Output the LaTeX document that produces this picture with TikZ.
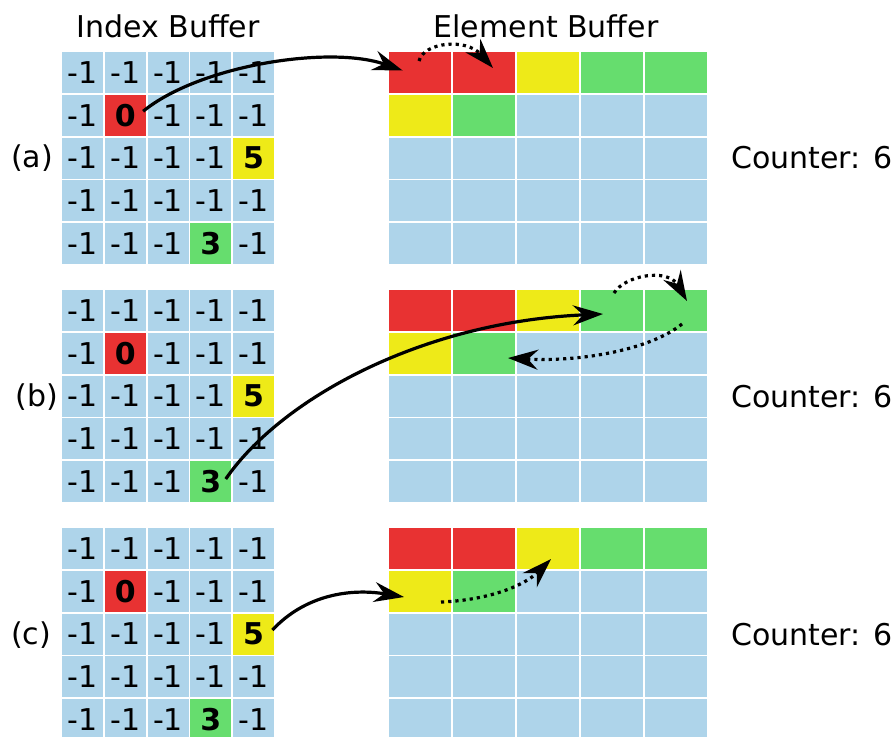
\documentclass[tikz,border=0pt]{standalone}
\usepackage{fontspec}
\setmainfont{DejaVu Sans}
\usetikzlibrary{arrows.meta,calc}
\definecolor{cellblue}{RGB}{174,212,234}
\definecolor{cellred}{RGB}{232,50,50}
\definecolor{cellyellow}{RGB}{238,234,24}
\definecolor{cellgreen}{RGB}{102,221,110}
\begin{document}
\begin{tikzpicture}[x=0.5pt,y=-0.5pt,
  every node/.style={font=\fontsize{15}{18}\selectfont},
  icell/.style={minimum width=20.5pt,minimum height=20.5pt,inner sep=0pt,fill=cellblue},
  ecell/.style={minimum width=31pt,minimum height=20.5pt,inner sep=0pt,fill=cellblue},
  link/.style={line width=1.6pt,-{Stealth[length=15pt,width=10pt,inset=5pt]}},
  hop/.style={link,dotted}]
\useasboundingbox (0,0) rectangle (892,736);

% column titles
\node[anchor=base] (ti) at (168,37) {Index Buffer};
\node[anchor=base] (te) at (546,37) {Element Buffer};

\foreach \b/\top in {a/52,b/290,c/528} {
  % index buffer: 5x5 cells
  \foreach \r in {1,...,5} {
    \foreach \c in {1,...,5} {
      \def\col{cellblue}\def\txt{-1}
      \ifnum\r\c=22 \def\col{cellred}\def\txt{\textbf{0}}\fi
      \ifnum\r\c=35 \def\col{cellyellow}\def\txt{\textbf{5}}\fi
      \ifnum\r\c=54 \def\col{cellgreen}\def\txt{\textbf{3}}\fi
      \node[icell,fill=\col] (I\b-\r-\c) at ({82.5+(\c-1)*42.75},{\top+20.5+(\r-1)*42.75}) {\txt};
    }
  }
  % element buffer: 5x5 slots
  \foreach \r in {1,...,5} {
    \foreach \c in {1,...,5} {
      \def\col{cellblue}
      \ifnum\r\c<13 \def\col{cellred}\fi
      \ifnum\r\c=13 \def\col{cellyellow}\fi
      \ifnum\r\c=14 \def\col{cellgreen}\fi
      \ifnum\r\c=15 \def\col{cellgreen}\fi
      \ifnum\r\c=21 \def\col{cellyellow}\fi
      \ifnum\r\c=22 \def\col{cellgreen}\fi
      \node[ecell,fill=\col] (E\b-\r-\c) at ({420+(\c-1)*64},{\top+20.5+(\r-1)*42.75}) {};
    }
  }
}

% row labels and counters
\node (la) at (32,158) {(a)};
\node (lb) at (37,397) {(b)};
\node (lc) at (31,635) {(c)};
\node[anchor=west,inner sep=0pt] (ka) at (731,158) {Counter: 6};
\node[anchor=west,inner sep=0pt] (kb) at (731,397) {Counter: 6};
\node[anchor=west,inner sep=0pt] (kc) at (731,635) {Counter: 6};

% (a)
\draw[link] ($(Ia-2-2.east)+(-3,-4)$) .. controls (200,65) and (330,45) .. ($(Ea-1-1.west)+(14,-2)$);
\draw[hop] ($(Ea-1-1.center)+(-1,-11.5)$) .. controls (424,42) and (466,38) .. ($(Ea-1-2.center)+(9,-4.5)$);

% (b)
\draw[link] ($(Ib-5-4.center)+(15,-2.5)$) .. controls (280,400) and (420,322) .. ($(Eb-1-4.center)+(-9,3.5)$);
\draw[hop] ($(Eb-1-4.center)+(2,-17.5)$) .. controls (625,275) and (668,268) .. ($(Eb-1-5.center)+(11,-9.5)$);
\draw[hop] ($(Eb-1-5.center)+(6,13.5)$) .. controls (650,350) and (580,362) .. ($(Eb-2-2.center)+(24,4.75)$);

% (c)
\draw[link] ($(Ic-3-5.east)+(-2,-4)$) .. controls (305,595) and (350,588) .. ($(Ec-2-1.center)+(-16,5.75)$);
\draw[hop] ($(Ec-2-1.center)+(21,10.75)$) .. controls (490,600) and (525,585) .. ($(Ec-1-3.center)+(3,10.5)$);
\end{tikzpicture}
\end{document}
